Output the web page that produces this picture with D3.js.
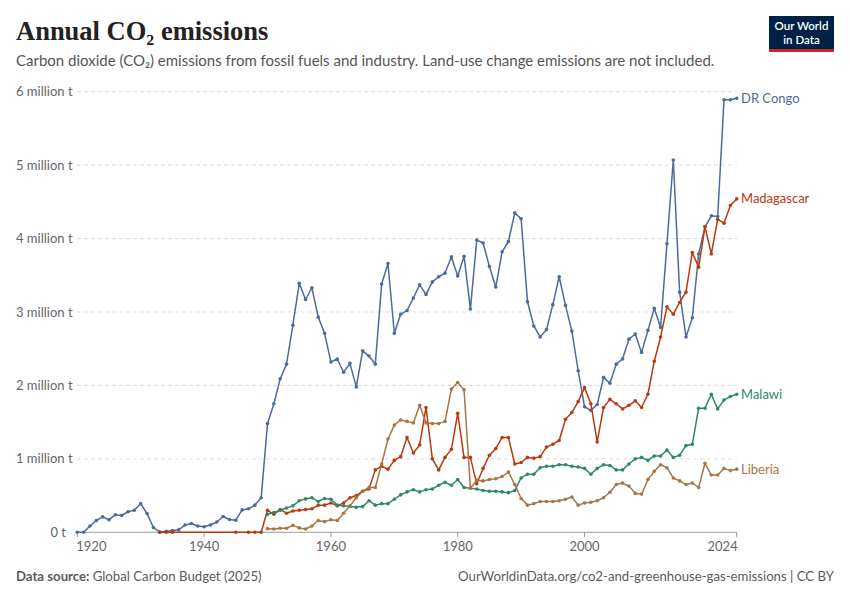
<!DOCTYPE html>
<html><head><meta charset="utf-8">
<script src="https://cdn.jsdelivr.net/npm/d3@7"></script>
<style>
body{margin:0;background:#fff;}
text{font-family:Lato,"Noto Sans",sans-serif;}
</style></head>
<body><svg id="chart" width="850" height="600"></svg>
<script>
// ---- data (million tonnes CO2) ----
const congoYears = d3.range(1920, 2025);
const congoValues = [
0,0,0.086,0.16,0.21,0.17,0.24,0.23,0.28,0.30,
0.39,0.255,0.065,0.005,0.012,0.025,0.035,0.10,0.12,0.085,
0.075,0.10,0.14,0.215,0.175,0.165,0.305,0.32,0.37,0.47,
1.48,1.75,2.09,2.29,2.82,3.39,3.17,3.33,2.93,2.71,
2.32,2.36,2.18,2.30,1.98,2.47,2.40,2.29,3.38,3.66,
2.71,2.97,3.02,3.19,3.37,3.24,3.41,3.48,3.53,3.75,
3.49,3.76,3.04,3.98,3.94,3.62,3.34,3.82,3.96,4.35,
4.27,3.14,2.81,2.66,2.76,3.10,3.48,3.09,2.74,2.20,
1.71,1.66,1.74,2.11,2.03,2.29,2.36,2.63,2.70,2.45,
2.75,3.05,2.79,3.93,5.07,3.27,2.66,2.92,3.79,4.16,
4.31,4.30,5.89,5.89,5.91];

const madagascarYears = [1933,1934,1935,1945,1947,1948,1949].concat(d3.range(1950, 2025));
const madagascarValues = [
0,0,0,0,0,0,0,
0.30,0.245,0.31,0.26,0.29,0.30,0.31,0.32,0.37,0.37,
0.40,0.36,0.40,0.47,0.50,0.56,0.59,0.85,0.90,0.86,
0.98,1.03,1.29,1.08,1.19,1.70,1.00,0.85,1.02,1.13,
1.62,1.02,1.02,0.66,0.87,1.05,1.14,1.29,1.29,0.93,
0.95,1.02,1.01,1.03,1.16,1.20,1.25,1.54,1.63,1.78,
1.97,1.75,1.23,1.70,1.81,1.75,1.68,1.73,1.79,1.70,
1.88,2.33,2.66,3.07,2.97,3.13,3.27,3.81,3.61,4.16,
3.79,4.26,4.21,4.45,4.54];

const malawiYears = d3.range(1950, 2025);
const malawiValues = [
0.245,0.27,0.30,0.33,0.36,0.43,0.455,0.47,0.42,0.46,
0.45,0.37,0.36,0.35,0.34,0.35,0.43,0.37,0.39,0.39,
0.45,0.51,0.55,0.58,0.55,0.58,0.59,0.64,0.68,0.64,
0.72,0.61,0.60,0.59,0.57,0.56,0.56,0.55,0.54,0.57,
0.74,0.79,0.79,0.88,0.90,0.90,0.92,0.92,0.90,0.89,
0.87,0.79,0.87,0.92,0.91,0.85,0.85,0.93,1.00,1.02,
0.98,1.04,1.04,1.12,1.02,1.05,1.18,1.20,1.69,1.69,
1.88,1.68,1.80,1.85,1.88];

const liberiaYears = d3.range(1950, 2025);
const liberiaValues = [
0.05,0.045,0.055,0.055,0.095,0.06,0.045,0.086,0.16,0.145,
0.17,0.16,0.26,0.36,0.47,0.56,0.61,0.61,0.93,1.27,
1.46,1.53,1.51,1.49,1.73,1.49,1.48,1.48,1.51,1.95,
2.04,1.94,0.60,0.71,0.70,0.72,0.73,0.76,0.82,0.65,
0.46,0.37,0.39,0.42,0.42,0.42,0.43,0.45,0.48,0.37,
0.40,0.41,0.43,0.47,0.545,0.65,0.67,0.63,0.53,0.52,
0.72,0.83,0.92,0.88,0.74,0.70,0.65,0.67,0.61,0.94,
0.78,0.78,0.87,0.84,0.86];

const seriesNames = ["DR Congo","Madagascar","Malawi","Liberia"];
const yTicks = [0,1,2,3,4,5,6];
const yTickLabels = ["0 t","1 million t","2 million t","3 million t","4 million t","5 million t","6 million t"];
const xTicks = [1920,1940,1960,1980,2000,2024];

// ---- styling ----
const colors = {"DR Congo":"#4C6A9C","Madagascar":"#B83A0E","Malawi":"#2A8A66","Liberia":"#A67648"};
const seriesData = [
  {name:"DR Congo", years:congoYears, values:congoValues},
  {name:"Madagascar", years:madagascarYears, values:madagascarValues},
  {name:"Malawi", years:malawiYears, values:malawiValues},
  {name:"Liberia", years:liberiaYears, values:liberiaValues}
];

const svg = d3.select("#chart");
const x = d3.scaleLinear().domain([1920, 2024]).range([77.3, 736.7]);
const y = d3.scaleLinear().domain([0, 6]).range([532.3, 91.7]);

// title
svg.append("text").attr("x",16).attr("y",40)
  .style("font-family","'Liberation Serif','DejaVu Serif',serif").style("font-weight","700")
  .style("font-size","26.5px").attr("fill","#222").text("Annual CO₂ emissions");
svg.append("text").attr("x",16).attr("y",66)
  .style("font-size","15px").attr("fill","#555")
  .text("Carbon dioxide (CO₂) emissions from fossil fuels and industry. Land-use change emissions are not included.");

// logo
const logo = svg.append("g");
logo.append("rect").attr("x",769).attr("y",16).attr("width",65).attr("height",36).attr("fill","#002147");
logo.append("rect").attr("x",769).attr("y",49).attr("width",65).attr("height",3).attr("fill","#CE261E");
logo.append("text").attr("x",801.5).attr("y",30).attr("text-anchor","middle").attr("fill","#fff")
  .style("font-size","11.5px").style("font-weight","600").text("Our World");
logo.append("text").attr("x",801.5).attr("y",43.5).attr("text-anchor","middle").attr("fill","#fff")
  .style("font-size","11.5px").style("font-weight","600").text("in Data");

// grid + y labels
const grid = svg.append("g");
yTicks.forEach((t,i)=>{
  if(t>0){
    grid.append("line").attr("x1",77).attr("x2",737).attr("y1",y(t)).attr("y2",y(t))
      .attr("stroke","#ddd").attr("stroke-dasharray","4,3").attr("stroke-width",1);
  }
  grid.append("text").attr("x", t===0 ? 66 : 16).attr("y",y(t)).attr("dy","0.35em")
    .attr("text-anchor", t===0 ? "end" : "start")
    .style("font-size","13px").attr("fill","#666").text(yTickLabels[i]);
});

// x axis
const xAxis = svg.append("g");
xAxis.append("line").attr("x1",77).attr("x2",737).attr("y1",y(0)).attr("y2",y(0)).attr("stroke","#999");
xTicks.forEach((t,i)=>{
  xAxis.append("line").attr("x1",x(t)).attr("x2",x(t)).attr("y1",y(0)).attr("y2",y(0)+5).attr("stroke","#999");
  const anchor = i===0 ? "start" : (i===xTicks.length-1 ? "end" : "middle");
  const xx = i===0 ? x(t)-1 : (i===xTicks.length-1 ? x(t)+1 : x(t));
  xAxis.append("text").attr("x",xx).attr("y",551).attr("text-anchor",anchor)
    .style("font-size","13px").attr("fill","#666").text(t);
});

// lines
const line = d3.line().x(d=>x(d[0])).y(d=>y(d[1]));
seriesData.forEach(s=>{
  const pts = s.years.map((yr,i)=>[yr, s.values[i]]);
  const g = svg.append("g");
  g.append("path").datum(pts).attr("d",line).attr("fill","none")
    .attr("stroke",colors[s.name]).attr("stroke-width",1.5).attr("stroke-linejoin","round");
  g.selectAll("circle").data(pts).join("circle")
    .attr("cx",d=>x(d[0])).attr("cy",d=>y(d[1])).attr("r",1.8).attr("fill",colors[s.name]);
  const last = pts[pts.length-1];
  svg.append("text").attr("x",741).attr("y",y(last[1])).attr("dy","0.35em")
    .style("font-size","13px").attr("fill",colors[s.name]).text(s.name);
});

// footer
const foot = svg.append("text").attr("x",16).attr("y",581).style("font-size","13.2px").attr("fill","#5b5b5b");
foot.append("tspan").style("font-weight","700").text("Data source: ");
foot.append("tspan").text("Global Carbon Budget (2025)");
svg.append("text").attr("x",834).attr("y",581).attr("text-anchor","end")
  .style("font-size","13.2px").attr("fill","#5b5b5b")
  .text("OurWorldinData.org/co2-and-greenhouse-gas-emissions | CC BY");
</script></body></html>
